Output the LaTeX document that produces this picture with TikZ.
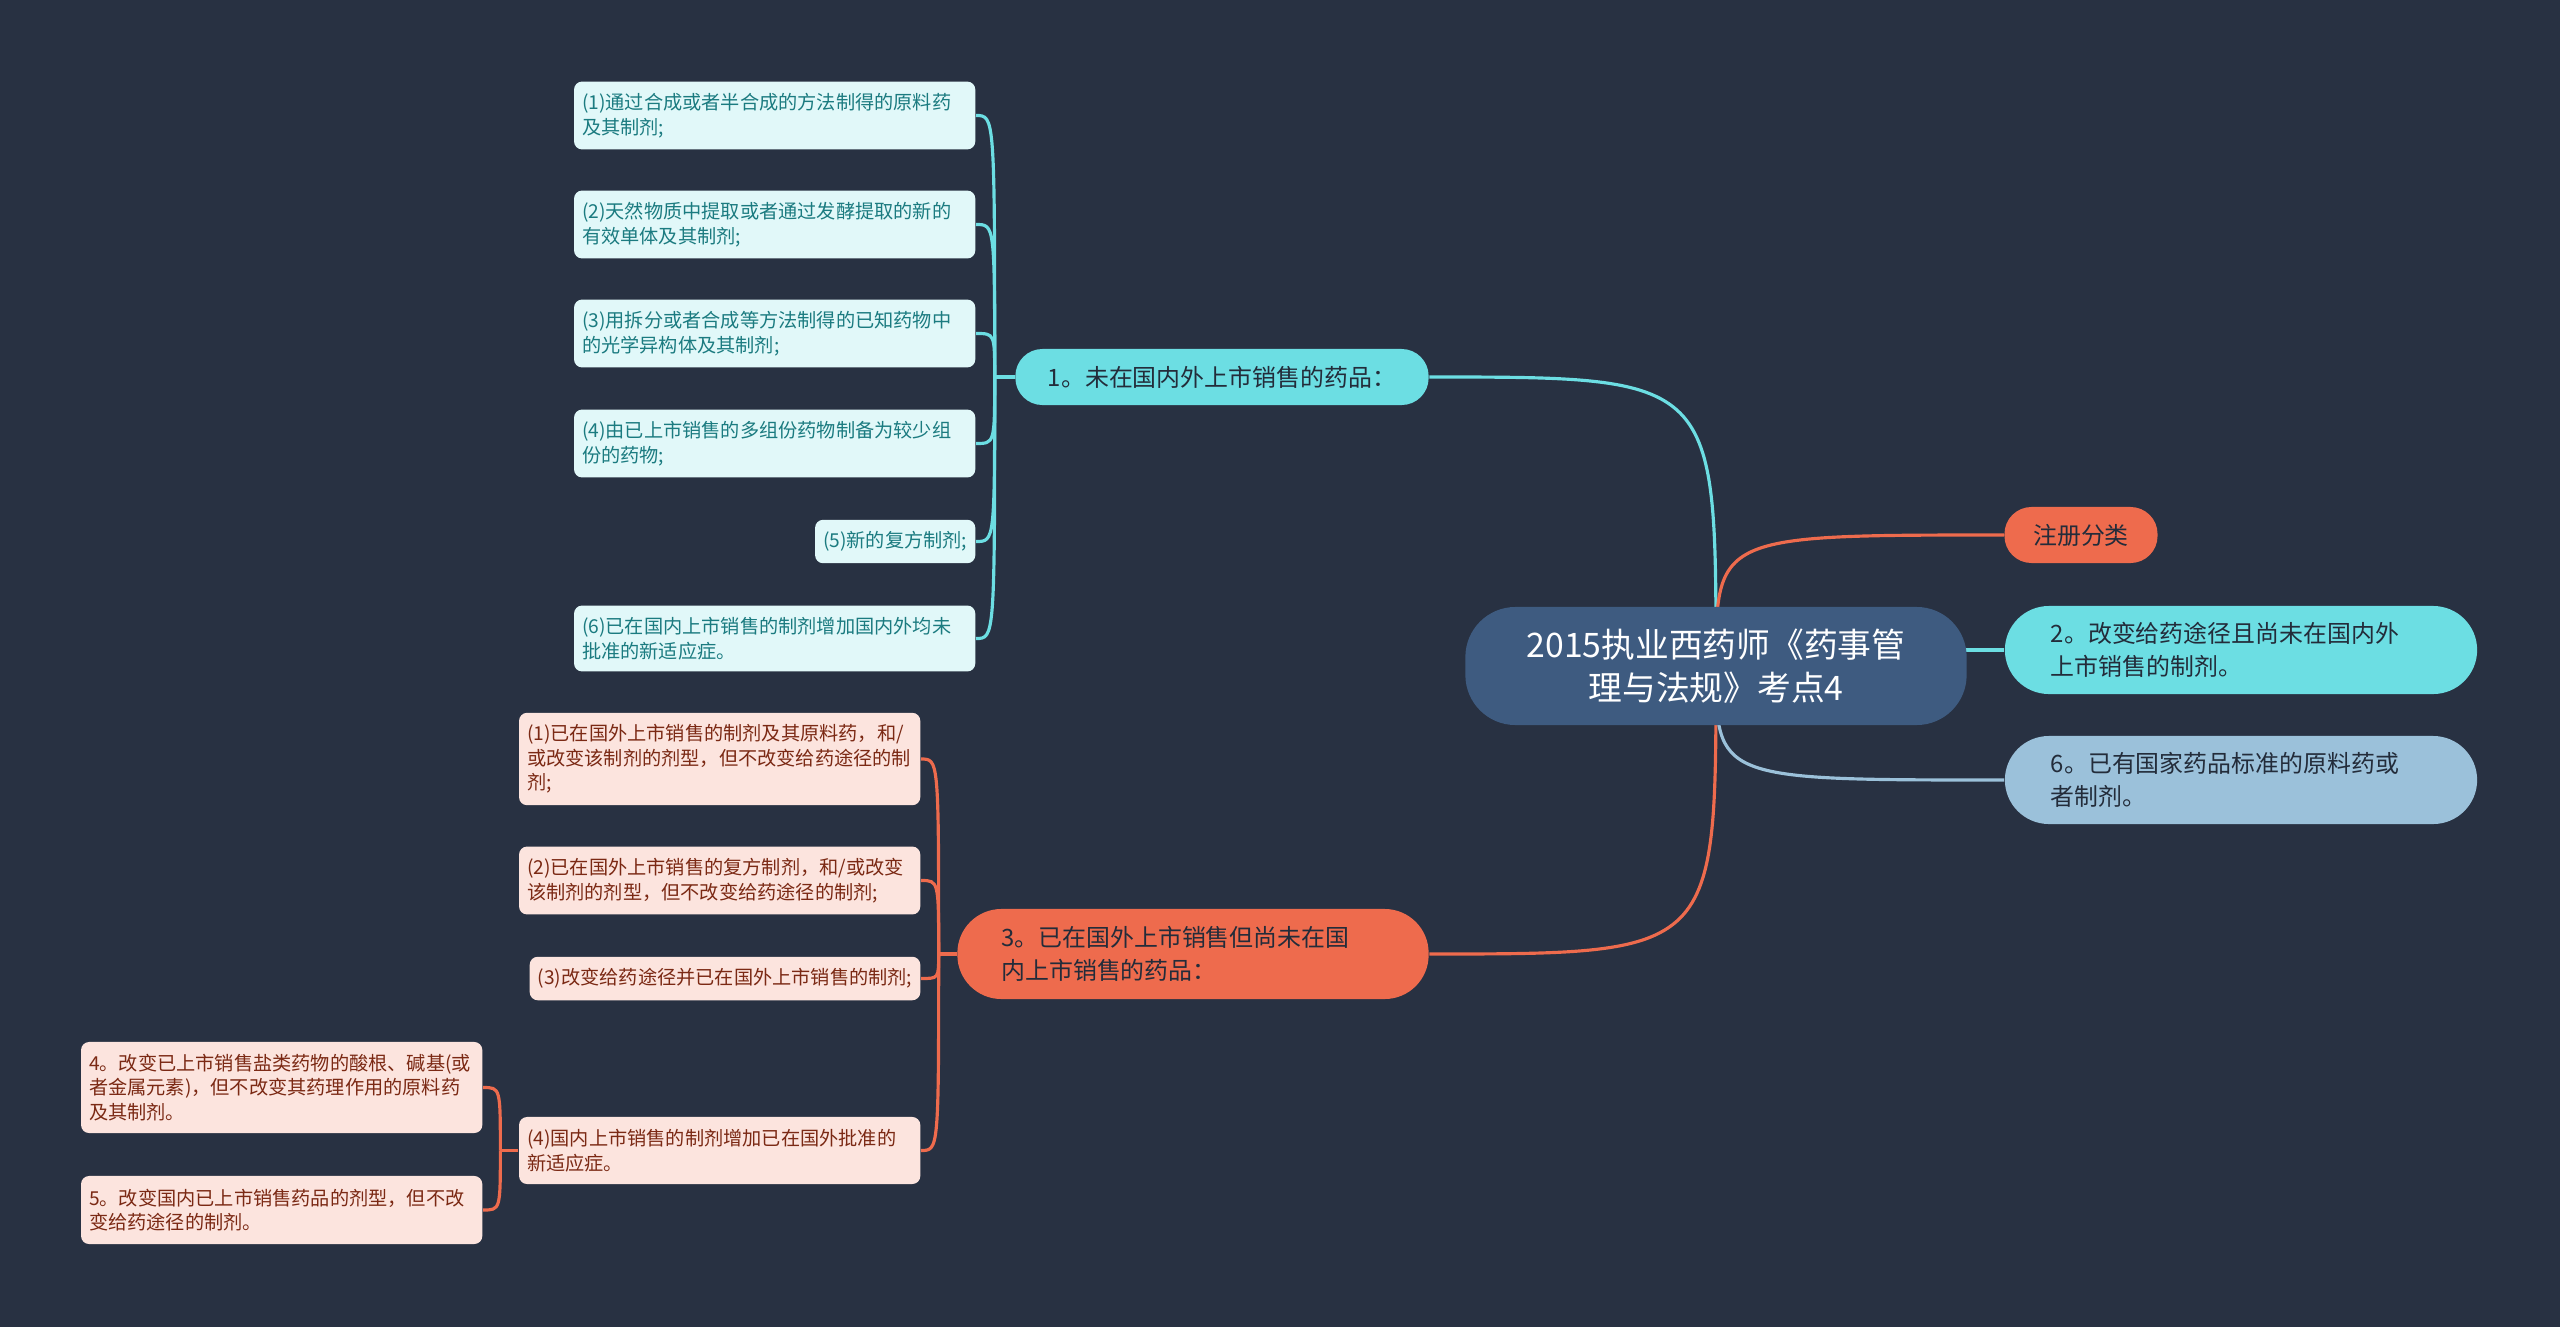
\documentclass[tikz,border=0pt]{standalone}
\usepackage{fontspec}
\setmainfont{Noto Sans CJK SC}
\usetikzlibrary{calc}

\definecolor{bgc}{HTML}{283142}
\definecolor{rootc}{HTML}{3E5B80}
\definecolor{cyanc}{HTML}{6CDEE3}
\definecolor{orangec}{HTML}{EE6B4D}
\definecolor{bluec}{HTML}{9BC1DA}
\definecolor{cleaf}{HTML}{E1F8F9}
\definecolor{oleaf}{HTML}{FCE4DE}
\definecolor{ctext}{HTML}{1B7B80}
\definecolor{otext}{HTML}{7B2914}
\definecolor{dtext}{HTML}{232C3A}

\pgfdeclarelayer{bg}
\pgfdeclarelayer{links}
\pgfsetlayers{bg,links,main}

\begin{document}
\begin{tikzpicture}[
    x=0.01cm, y=-0.01cm,
    root/.style={rounded corners=0.5cm, fill=rootc, text=white, minimum width=5.01cm,
        minimum height=1.18cm, align=center, font=\fontsize{9.6}{12.1}\selectfont},
    branch/.style={rounded corners=0.27cm, minimum height=0.56cm, inner xsep=0.3cm,
        text=dtext, font=\fontsize{6.8}{9.3}\selectfont},
    wbranch/.style={branch, rounded corners=0.44cm, text width=3.8cm, inner xsep=0.46cm,
        minimum height=0.88cm, align=left},
    sleaf/.style={rounded corners=0.08cm, anchor=east, inner xsep=0.08cm, minimum height=0.41cm,
        align=left, font=\fontsize{5.46}{6.97}\selectfont},
    leaf/.style={sleaf, text width=3.85cm, minimum height=0.67cm},
    cl/.style={fill=cleaf, text=ctext},
    ol/.style={fill=oleaf, text=otext},
    link/.style={line width=0.9pt}
]

\useasboundingbox (0,0) rectangle (2560,1327);
\begin{pgfonlayer}{bg}
\fill[bgc] (0,0) rectangle (2560,1327);
\end{pgfonlayer}

% centre
\node[root] (root) at (1716,666) {2015执业西药师《药事管\\理与法规》考点4};

% right side
\node[branch, fill=orangec, minimum width=1.53cm, inner xsep=0.1cm] (reg) at (2081,535) {注册分类};
\node[wbranch, fill=cyanc] (b2) at (2241,650) {2。改变给药途径且尚未在国内外\\上市销售的制剂。};
\node[wbranch, fill=bluec] (b6) at (2241,780) {6。已有国家药品标准的原料药或\\者制剂。};

% --- 1. (cyan) ---
\node[branch, fill=cyanc, minimum width=4.13cm] (b1) at (1222,377) {1。未在国内外上市销售的药品：};

\node[leaf, cl] (c1) at (976,115.5) {(1)通过合成或者半合成的方法制得的原料药\\及其制剂;};
\node[leaf, cl] (c2) at (976,224.5) {(2)天然物质中提取或者通过发酵提取的新的\\有效单体及其制剂;};
\node[leaf, cl] (c3) at (976,333.5) {(3)用拆分或者合成等方法制得的已知药物中\\的光学异构体及其制剂;};
\node[leaf, cl] (c4) at (976,443.5) {(4)由已上市销售的多组份药物制备为较少组\\份的药物;};
\node[sleaf, cl] (c5) at (976,541.5) {(5)新的复方制剂;};
\node[leaf, cl, minimum height=0.65cm] (c6) at (976,638.5) {(6)已在国内上市销售的制剂增加国内外均未\\批准的新适应症。};

% --- 3. (orange) ---
\node[wbranch, fill=orangec, minimum height=0.9cm, inner xsep=0.44cm, text width=3.83cm] (b3) at (1193,954) {3。已在国外上市销售但尚未在国\\内上市销售的药品：};

\node[leaf, ol, minimum height=0.92cm] (o1) at (921,759) {(1)已在国外上市销售的制剂及其原料药，和/\\或改变该制剂的剂型，但不改变给药途径的制\\剂;};
\node[leaf, ol] (o2) at (921,880.5) {(2)已在国外上市销售的复方制剂，和/或改变\\该制剂的剂型，但不改变给药途径的制剂;};
\node[sleaf, ol] (o3) at (921,978.5) {(3)改变给药途径并已在国外上市销售的制剂;};
\node[leaf, ol] (o4) at (921,1150.5) {(4)国内上市销售的制剂增加已在国外批准的\\新适应症。};

\node[leaf, ol, minimum height=0.91cm] (p1) at (483,1087.5) {4。改变已上市销售盐类药物的酸根、碱基(或\\者金属元素)，但不改变其药理作用的原料药\\及其制剂。};
\node[leaf, ol, minimum height=0.68cm] (p2) at (483,1210) {5。改变国内已上市销售药品的剂型，但不改\\变给药途径的制剂。};

% connectors
\begin{pgfonlayer}{links}
\draw[link, cyanc] (root.center) .. controls (root.center |- b1.east) .. (b1.east);
\draw[link, orangec] (root.center) .. controls (root.center |- b3.east) .. (b3.east);
\draw[link, orangec] (root.center) .. controls (root.center |- reg.west) .. (reg.west);
\draw[link, cyanc] (root.center |- b2.west) -- (b2.west);
\draw[link, bluec] (root.center) .. controls (root.center |- b6.west) .. (b6.west);

\draw[link, cyanc] (b1.west) -- ++(-20,0) coordinate (j1);
\foreach \n in {c1,c2,c3,c4,c5,c6}
    \draw[link, cyanc] (j1) .. controls (j1 |- \n.east) .. (\n.east);

\draw[link, orangec] (b3.west) -- ++(-18,0) coordinate (j3);
\foreach \n in {o1,o2,o3,o4}
    \draw[link, orangec] (j3) .. controls (j3 |- \n.east) .. (\n.east);

\draw[link, orangec] (o4.west) -- ++(-18,0) coordinate (j4);
\foreach \n in {p1,p2}
    \draw[link, orangec] (j4) .. controls (j4 |- \n.east) .. (\n.east);
\end{pgfonlayer}

\end{tikzpicture}
\end{document}
